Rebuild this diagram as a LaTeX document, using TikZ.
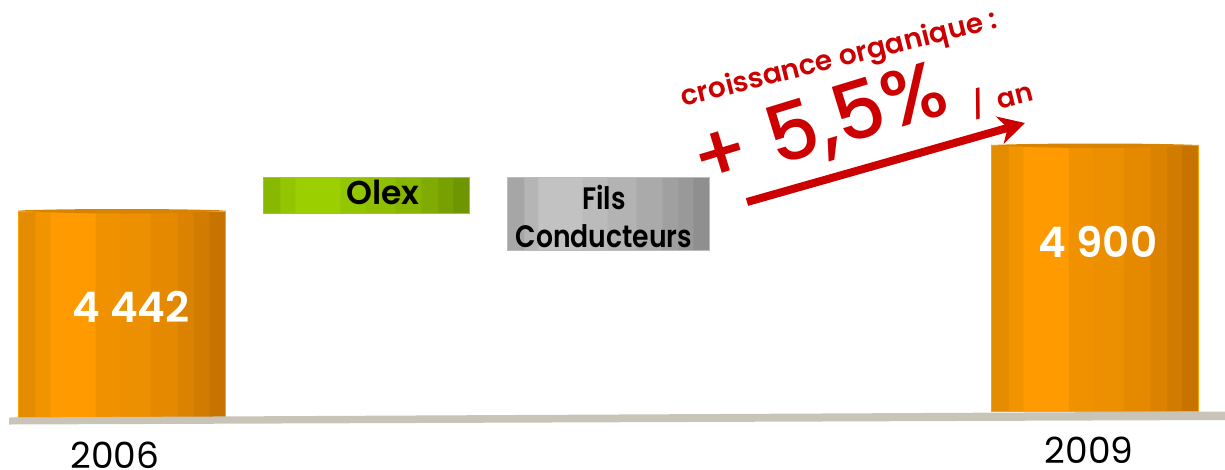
\documentclass[tikz,border=0pt]{standalone}
\usepackage{fontspec}
\setmainfont{Poppins}
\newfontfamily\popmed{Poppins Medium}
\newfontfamily\popsb{Poppins SemiBold}
\newfontfamily\popsemi[FakeStretch=0.86]{Poppins SemiBold}
\usetikzlibrary{arrows.meta}
\definecolor{o1}{HTML}{E48C00}\definecolor{o2}{HTML}{F29400}\definecolor{o3}{HTML}{FF9B00}
\definecolor{o4}{HTML}{F09200}\definecolor{o5}{HTML}{EC8F00}\definecolor{o6}{HTML}{E58A00}
\definecolor{o7}{HTML}{DB8200}\definecolor{o8}{HTML}{D17B00}\definecolor{o9}{HTML}{C67300}
\definecolor{g1}{HTML}{88B800}\definecolor{g2}{HTML}{93C600}\definecolor{g3}{HTML}{9BCF00}
\definecolor{g4}{HTML}{93C500}\definecolor{g5}{HTML}{8FBF00}\definecolor{g6}{HTML}{88B500}
\definecolor{g7}{HTML}{80AB00}\definecolor{g8}{HTML}{78A000}\definecolor{g9}{HTML}{6E9600}
\definecolor{s1}{HTML}{A6A6A6}\definecolor{s2}{HTML}{B5B5B5}\definecolor{s3}{HTML}{C2C2C2}
\definecolor{s4}{HTML}{BBBBBB}\definecolor{s5}{HTML}{B3B3B3}\definecolor{s6}{HTML}{AAAAAA}
\definecolor{s7}{HTML}{A0A0A0}\definecolor{s8}{HTML}{999999}\definecolor{s9}{HTML}{8F8F8F}
\definecolor{ground}{HTML}{C8C5B8}
\definecolor{redtxt}{HTML}{CC0000}
\definecolor{ocap}{HTML}{D88400}
\definecolor{oedge}{HTML}{FFA200}
\newcommand\stripeshade[2]{%
\pgfdeclarehorizontalshading{#1}{100bp}{color(0bp)=(#21); color(25bp)=(#21); color(29bp)=(#21); color(29.01bp)=(#22); color(32.65bp)=(#22); color(32.66bp)=(#23); color(43.5bp)=(#23); color(43.51bp)=(#24); color(49.55bp)=(#24); color(49.56bp)=(#25); color(56.8bp)=(#25); color(56.81bp)=(#26); color(63.25bp)=(#26); color(63.26bp)=(#27); color(67.25bp)=(#27); color(67.26bp)=(#28); color(70.9bp)=(#28); color(70.91bp)=(#29); color(75bp)=(#29); color(100bp)=(#29)}}
\stripeshade{obar}{o}
\stripeshade{gbar}{g}
\stripeshade{sbar}{s}
\tikzset{
  barbox/.style={rectangle, inner sep=0pt, draw=oedge, line width=1pt, shade, shading=obar, anchor=south west},
  olexbox/.style={rectangle, inner sep=0pt, draw=g3, line width=0.8pt, shade, shading=gbar, anchor=north west},
  filsbox/.style={rectangle, inner sep=0pt, draw=s4, line width=0.8pt, shade, shading=sbar, anchor=north west},
  valtxt/.style={anchor=base, text=white, font=\popsb\fontsize{42}{50}\selectfont},
  yeartxt/.style={anchor=base, text=black, font=\fontsize{36}{40}\selectfont},
  boxtxt/.style={anchor=base, text=black, font=\popsemi\fontsize{31}{36}\selectfont},
  redtext/.style={text=redtxt, inner sep=0pt},
  redarrow/.style={draw=redtxt, line width=8pt, -{Stealth[length=26pt,width=28pt,inset=8pt]}}
}
\begin{document}
\begin{tikzpicture}[x=1pt,y=-1pt]
\useasboundingbox (0,0) rectangle (1225,469);
% bars
\node[barbox, minimum width=207pt, minimum height=206pt] (b06) at (18,417.5) {};
\node[barbox, minimum width=207pt, minimum height=266pt] (b09) at (991,412) {};
\foreach \b in {b06,b09}{
  \fill[ocap] (\b.north west) .. controls ([xshift=50pt,yshift=2pt]\b.north west) and ([xshift=-50pt,yshift=2pt]\b.north east) .. (\b.north east)
    .. controls ([xshift=-50pt,yshift=-4pt]\b.north east) and ([xshift=50pt,yshift=-4pt]\b.north west) .. cycle;
}
% ground
\fill[ground] (9,417.5) -- (1225,411.5) -- (1225,420) -- (9,424.5) -- cycle;
% small boxes
\node[olexbox, minimum width=206pt, minimum height=36pt] (olex) at (263,177) {};
\node[filsbox, minimum width=202pt, minimum height=73pt] (fils) at (507,177) {};
\node[boxtxt, font=\popsb\fontsize{33}{36}\selectfont] (olext) at (383,204) {Olex};
\node[boxtxt] (filst) at (604,209) {Fils};
\node[boxtxt] (condt) at (604,247) {Conducteurs};
% values
\node[valtxt] (v06) at (131,322) {4 442};
\node[valtxt] (v09) at (1098,257) {4 900};
\node[yeartxt] (y06) at (115,468) {2006};
\node[yeartxt] (y09) at (1089,463) {2009};
% growth
\coordinate (ars) at (747,202);
\coordinate (are) at (1025,123);
\draw[redarrow] (ars) -- (are);
\node[redtext, anchor=base, rotate=14, font=\popsb\fontsize{28}{34}\selectfont] (crois) at (841,67) {croissance organique :};
\node[redtext, rotate=17, font=\popmed\fontsize{80}{90}\selectfont] (pct) at (820,128) {+ 5,5\%};
\node[redtext, rotate=14, font=\popsb\fontsize{27}{32}\selectfont] (an) at (1002,98) {/\enspace an};
\end{tikzpicture}
\end{document}
